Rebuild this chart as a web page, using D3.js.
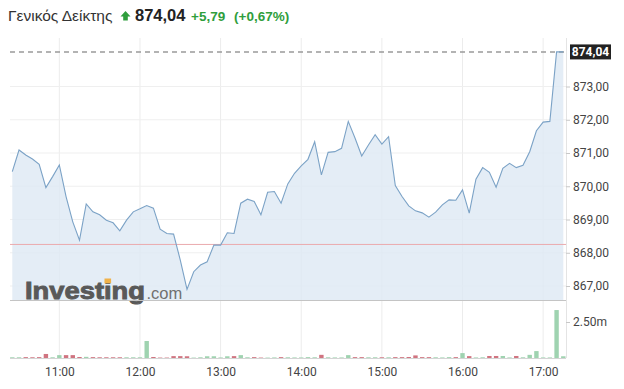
<!DOCTYPE html>
<html>
<head>
<meta charset="utf-8">
<script src="https://cdn.jsdelivr.net/npm/d3@7"></script>
<style>
  body { margin: 0; background: #fff; }
  svg { display: block; }
  .axis text { font-family: Roboto, "Liberation Sans", sans-serif; font-size: 12px; fill: #444; }
  .axis path.domain { display: none; }
  .axis line { stroke: #c8c8c8; }
</style>
</head>
<body>
<svg width="624" height="389"></svg>
<script>
// header texts
const titleText = 'Γενικός Δείκτης';
const lastText = '874,04';
const changeText = '+5,79';
const pctText = '(+0,67%)';

const lastPrice = 874.04;
const prevClose = 868.25;

// 5 minute points, first one at 10:25
const startTime = '10:25';
const stepMinutes = 5;

const prices = [
  870.44, 871.09, 870.94, 870.82, 870.66, 869.96, 870.29, 870.64, 869.69, 868.93,
  868.38, 869.47, 869.23, 869.14, 868.98, 868.90, 868.66, 868.98, 869.23, 869.32,
  869.42, 869.34, 868.71, 868.58, 868.56, 867.78, 866.90, 867.43, 867.63, 867.73,
  868.23, 868.23, 868.60, 868.58, 869.49, 869.61, 869.54, 869.14, 869.82, 869.84,
  869.49, 870.07, 870.39, 870.61, 870.81, 871.34, 870.34, 871.02, 871.04, 871.14,
  871.95, 871.45, 870.91, 871.24, 871.55, 871.27, 871.49, 870.02, 869.69, 869.41,
  869.26, 869.20, 869.07, 869.22, 869.44, 869.59, 869.58, 869.89, 869.19, 870.21,
  870.56, 870.42, 869.97, 870.54, 870.69, 870.56, 870.63, 871.04, 871.67, 871.93,
  871.95, 874.04, 874.04
];

// volume in millions
const volumes = [
  0.05, 0.05, 0.06, 0.05, 0.06, 0.28, 0.05, 0.20, 0.20, 0.20,
  0.07, 0.08, 0.06, 0.05, 0.05, 0.05, 0.05, 0.05, 0.05, 0.05,
  1.18, 0.07, 0.03, 0.03, 0.13, 0.13, 0.12, 0.03, 0.05, 0.12,
  0.12, 0.04, 0.12, 0.13, 0.20, 0.05, 0.06, 0.03, 0.03, 0.04,
  0.06, 0.05, 0.04, 0.04, 0.06, 0.05, 0.22, 0.05, 0.04, 0.04,
  0.20, 0.06, 0.06, 0.05, 0.05, 0.05, 0.05, 0.06, 0.06, 0.07,
  0.18, 0.06, 0.06, 0.05, 0.04, 0.06, 0.06, 0.34, 0.13, 0.04,
  0.05, 0.14, 0.14, 0.14, 0.04, 0.14, 0.05, 0.22, 0.48, 0.04,
  0.04, 3.33, 0.12
];

const priceTicks = [867, 868, 869, 870, 871, 872, 873];
const hourTicks = ['11:00', '12:00', '13:00', '14:00', '15:00', '16:00', '17:00'];
const volumeTicks = [2.5];

const svg = d3.select('svg');

const plotLeft = 10;
const plotRight = 566;
const plotTop = 38;
const priceBottom = 300;
const volBottom = 358;

const parseTime = d3.timeParse('%H:%M');
const t0 = parseTime(startTime);
const times = prices.map((_, i) => d3.timeMinute.offset(t0, i * stepMinutes));
const data = prices.map((p, i) => ({
  time: times[i],
  price: p,
  volume: volumes[i],
  up: p >= (i === 0 ? prevClose : prices[i - 1])
}));

// scales
const scaleX = d3.scaleTime()
  .domain([times[0], times[times.length - 1]])
  .range([12.3, 563.3]);

const scaleY = d3.scaleLinear()
  .domain([867, 873])
  .range([286, 86.5]);

const scaleV = d3.scaleLinear()
  .domain([0, 2.5])
  .range([volBottom, 322]);

// grid lines
svg.append('g')
  .selectAll('line')
  .data(hourTicks.map(parseTime))
  .join('line')
  .attr('x1', d => scaleX(d)).attr('x2', d => scaleX(d))
  .attr('y1', plotTop).attr('y2', volBottom)
  .attr('stroke', '#ececec');

svg.append('g')
  .selectAll('line')
  .data(priceTicks)
  .join('line')
  .attr('x1', plotLeft).attr('x2', plotRight)
  .attr('y1', d => scaleY(d)).attr('y2', d => scaleY(d))
  .attr('stroke', '#efefef');

// price area and line
const area = d3.area()
  .x(d => scaleX(d.time))
  .y0(priceBottom)
  .y1(d => scaleY(d.price));

svg.append('path')
  .datum(data)
  .attr('d', area)
  .attr('fill', '#dde8f4')
  .attr('fill-opacity', 0.8);

// watermark
const wm = svg.append('text')
  .attr('x', 25)
  .attr('y', 298.7)
  .attr('textLength', 120)
  .attr('lengthAdjust', 'spacingAndGlyphs')
  .style('font-family', '"Liberation Sans", Arial, sans-serif')
  .attr('font-size', 23.5)
  .attr('font-weight', 'bold')
  .attr('fill', '#595959')
  .attr('stroke', '#595959')
  .attr('stroke-width', 0.9)
  .text('Investing');

svg.append('text')
  .attr('x', 146.5)
  .attr('y', 298.7)
  .style('font-family', '"Liberation Sans", Arial, sans-serif')
  .attr('font-size', 16.5)
  .attr('fill', '#707070')
  .text('.com');

// orange dot over the second "i"
const iBox = wm.node().getExtentOfChar(6);
svg.append('rect')
  .attr('x', iBox.x + iBox.width / 2 - 3.3)
  .attr('y', 278.5)
  .attr('width', 6.6)
  .attr('height', 4.8)
  .attr('fill', '#f0b24a');

// previous close line
svg.append('line')
  .attr('x1', plotLeft).attr('x2', plotRight)
  .attr('y1', scaleY(prevClose)).attr('y2', scaleY(prevClose))
  .attr('stroke', '#eaaaae');

// last price dashed line
svg.append('line')
  .attr('x1', plotLeft).attr('x2', plotRight)
  .attr('y1', scaleY(lastPrice)).attr('y2', scaleY(lastPrice))
  .attr('stroke', '#9a9a9a')
  .attr('stroke-width', 1.5)
  .attr('stroke-dasharray', '5,4');

const line = d3.line()
  .x(d => scaleX(d.time))
  .y(d => scaleY(d.price));

svg.append('path')
  .datum(data)
  .attr('d', line)
  .attr('fill', 'none')
  .attr('stroke', '#7ba2c6')
  .attr('stroke-width', 1.1);

// panel borders
svg.append('line')
  .attr('x1', plotLeft).attr('x2', plotRight)
  .attr('y1', priceBottom + 0.5).attr('y2', priceBottom + 0.5)
  .attr('stroke', '#c4c4c4');

svg.append('line')
  .attr('x1', plotLeft).attr('x2', plotRight)
  .attr('y1', volBottom + 0.5).attr('y2', volBottom + 0.5)
  .attr('stroke', '#d4d4d4');

svg.append('line')
  .attr('x1', plotRight + 0.5).attr('x2', plotRight + 0.5)
  .attr('y1', plotTop).attr('y2', volBottom)
  .attr('stroke', '#e4e4e4');

// volume bars
svg.append('g')
  .selectAll('rect')
  .data(data)
  .join('rect')
  .attr('x', d => scaleX(d.time) - 2.2)
  .attr('width', 4.4)
  .attr('y', d => scaleV(d.volume))
  .attr('height', d => volBottom - scaleV(d.volume))
  .attr('fill', d => d.up ? '#9fd3b0' : '#d07480');

// price axis
const axisY = d3.axisRight(scaleY)
  .tickValues(priceTicks)
  .tickSize(4)
  .tickPadding(3)
  .tickFormat(d => d3.format('.2f')(d).replace('.', ','));

svg.append('g')
  .attr('class', 'axis')
  .attr('transform', `translate(${plotRight}, 0)`)
  .call(axisY);

// volume axis
const axisV = d3.axisRight(scaleV)
  .tickValues(volumeTicks)
  .tickSize(4)
  .tickPadding(3)
  .tickFormat(d => d3.format('.2f')(d) + 'm');

svg.append('g')
  .attr('class', 'axis')
  .attr('transform', `translate(${plotRight}, 0)`)
  .call(axisV);

// time axis
const axisX = d3.axisBottom(scaleX)
  .tickValues(hourTicks.map(parseTime))
  .tickSize(0)
  .tickPadding(9.5)
  .tickFormat(d3.timeFormat('%H:%M'));

svg.append('g')
  .attr('class', 'axis')
  .attr('transform', `translate(0, ${volBottom})`)
  .call(axisX);

// last price tag
const tagY = scaleY(lastPrice);
svg.append('rect')
  .attr('x', 570)
  .attr('y', tagY - 7.5)
  .attr('width', 41)
  .attr('height', 15)
  .attr('fill', '#222');

svg.append('text')
  .attr('x', 590.5)
  .attr('y', tagY + 4.3)
  .attr('text-anchor', 'middle')
  .style('font-family', 'Roboto, "Liberation Sans", sans-serif')
  .style('font-size', '12px')
  .style('font-weight', 'bold')
  .attr('fill', '#fff')
  .text(lastText);

// header
svg.append('text')
  .attr('x', 8)
  .attr('y', 21)
  .style('font-family', '"Liberation Sans", Arial, sans-serif')
  .attr('font-size', 15.5)
  .attr('fill', '#333')
  .text(titleText);

const arrowX = 125.5;
svg.append('path')
  .attr('d', `M${arrowX},11 L${arrowX + 5},16.5 L${arrowX + 2.3},16.5 L${arrowX + 2.3},20.5 L${arrowX - 2.3},20.5 L${arrowX - 2.3},16.5 L${arrowX - 5},16.5 Z`)
  .attr('fill', '#2f9e3c');

svg.append('text')
  .attr('x', 135)
  .attr('y', 21)
  .style('font-family', '"Liberation Sans", Arial, sans-serif')
  .attr('font-size', 16.5)
  .attr('font-weight', 'bold')
  .attr('fill', '#222')
  .text(lastText);

svg.append('text')
  .attr('x', 191)
  .attr('y', 21)
  .style('font-family', '"Liberation Sans", Arial, sans-serif')
  .attr('font-size', 13.5)
  .attr('font-weight', 'bold')
  .attr('fill', '#2f9e3c')
  .text(changeText);

svg.append('text')
  .attr('x', 234)
  .attr('y', 21)
  .style('font-family', '"Liberation Sans", Arial, sans-serif')
  .attr('font-size', 13.5)
  .attr('font-weight', 'bold')
  .attr('fill', '#2f9e3c')
  .text(pctText);
</script>
</body>
</html>
